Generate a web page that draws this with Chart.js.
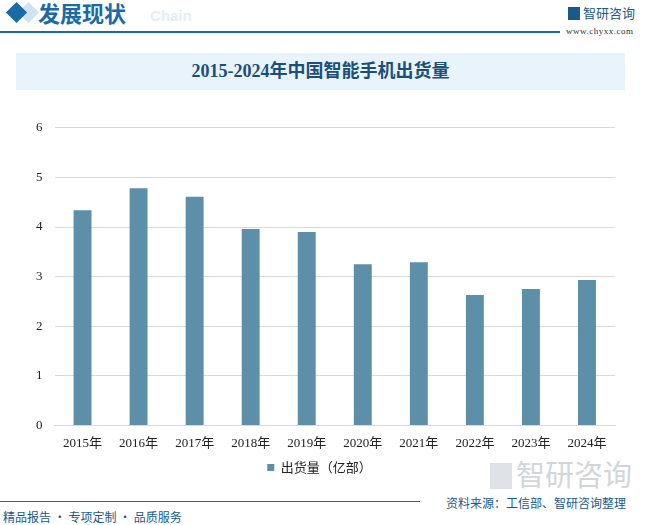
<!DOCTYPE html>
<html>
<head>
<meta charset="utf-8">
<script src="https://cdn.jsdelivr.net/npm/chart.js@4"></script>
<style>
  body { margin: 0; width: 647px; height: 525px; background: #fff; position: relative; overflow: hidden; font-family: "Noto Sans CJK SC", sans-serif; }
  .diamond { position: absolute; left: 9px; top: 5px; width: 15px; height: 15px; background: #1a6aa6; transform: rotate(45deg); }
  .diamond2 { position: absolute; left: 21px; top: 5px; width: 15px; height: 15px; background: #cfe3f2; transform: rotate(45deg); z-index: -1; }
  .head { position: absolute; left: 38px; top: -4px; font-size: 22px; font-weight: bold; color: #1a6aa6; }
  .chain { position: absolute; left: 150px; top: 7px; font-size: 15px; font-weight: bold; color: #e1eef8; font-family: "Liberation Sans", sans-serif; }
  .topline { position: absolute; left: 0; top: 31px; width: 560px; height: 2px; background: #1a6aa6; }
  .logo { position: absolute; left: 568px; top: 3px; font-size: 13px; color: #1a5a8a; }
  .logo b { display: inline-block; width: 12px; height: 13px; background: #1a5a8a; vertical-align: -2px; margin-right: 3px; }
  .url { position: absolute; left: 566px; top: 26px; font-size: 9px; color: #333; font-family: "Liberation Serif", serif; letter-spacing: 0.5px; }
  .titlebox { position: absolute; left: 16px; top: 53px; width: 609px; height: 37px; background: #e8f3fb; }
  .title { position: absolute; left: 0; top: 0; width: 609px; line-height: 37px; text-align: center; font-size: 18px; font-weight: bold; color: #1b4f7a; font-family: "Liberation Serif", "Noto Sans CJK SC", serif; }
  .wm { position: absolute; left: 490px; top: 452px; font-size: 29px; color: #d2d6da; }
  .wm b { display: inline-block; width: 22px; height: 26px; background: #dfe3e7; vertical-align: -3px; margin-right: 4px; }
  .source { position: absolute; left: 446px; top: 494px; font-size: 12px; color: #1a5a8a; }
  .botline { position: absolute; left: 0; top: 501px; width: 420px; height: 1px; background: #1a6aa6; }
  .slogan { position: absolute; left: 3px; top: 508px; font-size: 12px; color: #1a5a8a; }
  #wrap { position: absolute; left: 16px; top: 108px; width: 615px; height: 376px; }
</style>
</head>
<body>
<div class="diamond2"></div>
<div class="diamond"></div>
<div class="head">发展现状</div>
<div class="chain">Chain</div>
<div class="topline"></div>
<div class="logo"><b></b>智研咨询</div>
<div class="url">www.chyxx.com</div>
<div class="titlebox"><div class="title">2015-2024年中国智能手机出货量</div></div>
<div class="wm"><b></b>智研咨询</div>
<div class="botline"></div>
<div class="source">资料来源：工信部、智研咨询整理</div>
<div class="slogan">精品报告 · 专项定制 · 品质服务</div>
<div id="wrap"><canvas id="c"></canvas></div>
<script>
// 数据
const years = ['2015年', '2016年', '2017年', '2018年', '2019年', '2020年', '2021年', '2022年', '2023年', '2024年'];
const shipments = [4.34, 4.78, 4.61, 3.96, 3.90, 3.25, 3.29, 2.63, 2.75, 2.93];
const seriesName = '出货量（亿部）';

const ctx = document.getElementById('c').getContext('2d');
const tickFont = { family: '"Liberation Serif", "Noto Sans CJK SC", serif', size: 13 };

new Chart(ctx, {
    type: 'bar',
    data: {
        labels: years,
        datasets: [{
            label: seriesName,
            data: shipments,
            backgroundColor: '#5d90a8',
            barPercentage: 0.64,
            categoryPercentage: 0.5
        }]
    },
    options: {
        responsive: true,
        maintainAspectRatio: false,
        animation: false,
        layout: { padding: { left: 8, right: 16, top: 9, bottom: 0 } },
        plugins: {
            legend: {
                position: 'bottom',
                labels: { boxWidth: 7, boxHeight: 7, color: '#222', font: { family: '"Noto Sans CJK SC", sans-serif', size: 13 }, padding: 8 }
            },
            tooltip: { enabled: false }
        },
        scales: {
            x: {
                grid: { display: false },
                border: { color: '#d9d9d9' },
                ticks: { color: '#222', font: tickFont, maxRotation: 0, padding: 2 }
            },
            y: {
                min: 0,
                max: 6,
                ticks: { stepSize: 1, color: '#222', font: tickFont, padding: 12 },
                grid: { color: '#d9d9d9', drawTicks: false },
                border: { display: false }
            }
        }
    }
});
</script>
</body>
</html>
